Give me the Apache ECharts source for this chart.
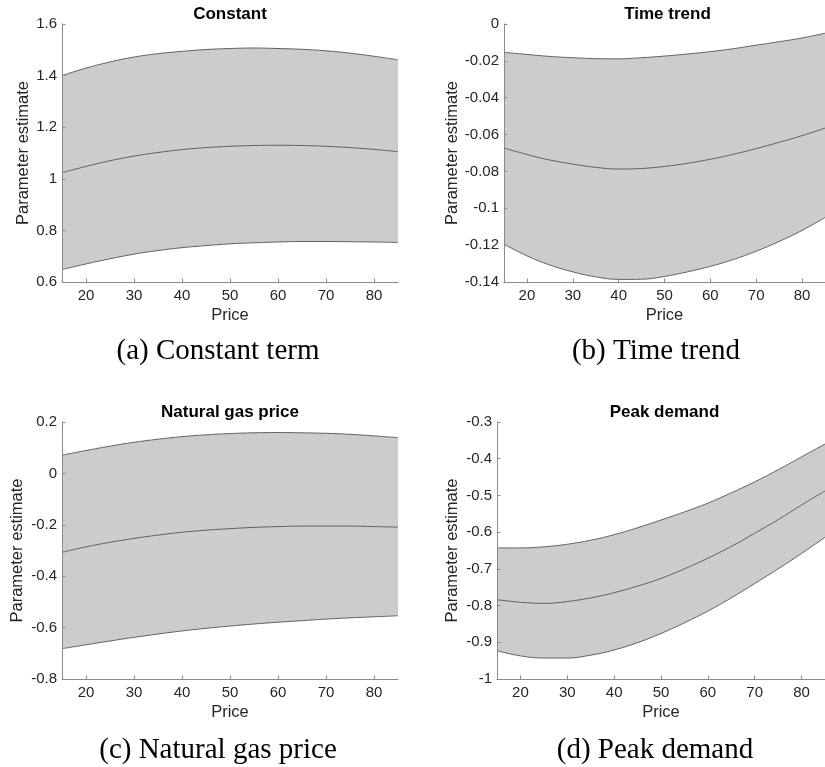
<!DOCTYPE html>
<html>
<head>
<meta charset="utf-8">
<script src="https://cdn.jsdelivr.net/npm/echarts@6/dist/echarts.min.js"></script>
<style>
  html, body { margin: 0; padding: 0; background: #fff; }
  #chart { width: 825px; height: 767px; }
</style>
</head>
<body>
<div id="chart"></div>
<script>
// price grid shared by all panels
const price = [15, 20, 25, 30, 35, 40, 45, 50, 55, 60, 65, 70, 75, 80, 85];
const priceTicks = [20, 30, 40, 50, 60, 70, 80];

// (a) constant
const constUpper = [1.400, 1.429, 1.453, 1.472, 1.485, 1.494, 1.501, 1.505, 1.507, 1.505, 1.502, 1.496, 1.487, 1.475, 1.461];
const constMid   = [1.024, 1.048, 1.070, 1.088, 1.102, 1.113, 1.121, 1.126, 1.129, 1.130, 1.129, 1.126, 1.121, 1.114, 1.105];
const constLower = [0.648, 0.670, 0.690, 0.708, 0.722, 0.733, 0.741, 0.748, 0.752, 0.755, 0.757, 0.757, 0.756, 0.755, 0.753];

// (b) time trend
const trendUpper = [-0.0154, -0.0165, -0.0176, -0.0183, -0.0188, -0.0189, -0.0183, -0.0174, -0.0163, -0.0150, -0.0134, -0.0115, -0.0096, -0.0076, -0.0050];
const trendMid   = [-0.0673, -0.0708, -0.0738, -0.0760, -0.0778, -0.0787, -0.0784, -0.0773, -0.0756, -0.0734, -0.0707, -0.0676, -0.0642, -0.0606, -0.0565];
const trendLower = [-0.1195, -0.1258, -0.1308, -0.1345, -0.1372, -0.1386, -0.1385, -0.1370, -0.1345, -0.1315, -0.1278, -0.1233, -0.1180, -0.1120, -0.1050];

// (c) natural gas price
const gasUpper = [0.071, 0.089, 0.106, 0.121, 0.133, 0.143, 0.150, 0.155, 0.158, 0.159, 0.158, 0.156, 0.152, 0.146, 0.139];
const gasMid   = [-0.307, -0.286, -0.268, -0.253, -0.240, -0.229, -0.221, -0.215, -0.210, -0.207, -0.205, -0.205, -0.205, -0.207, -0.209];
const gasLower = [-0.682, -0.667, -0.652, -0.638, -0.625, -0.613, -0.603, -0.594, -0.586, -0.579, -0.573, -0.567, -0.562, -0.558, -0.554];

// (d) peak demand
const peakUpper = [-0.643, -0.643, -0.640, -0.633, -0.622, -0.607, -0.588, -0.567, -0.545, -0.521, -0.493, -0.463, -0.430, -0.395, -0.360];
const peakMid   = [-0.784, -0.791, -0.794, -0.789, -0.779, -0.765, -0.747, -0.726, -0.700, -0.671, -0.639, -0.603, -0.566, -0.526, -0.488];
const peakLower = [-0.923, -0.937, -0.943, -0.943, -0.935, -0.921, -0.901, -0.876, -0.847, -0.815, -0.779, -0.740, -0.700, -0.658, -0.614];

const panels = [
  { title: 'Constant', caption: '(a) Constant term', upper: constUpper, mid: constMid, lower: constLower,
    yMin: 0.6, yMax: 1.6, yStep: 0.2,
    grid: { left: 62, top: 24, width: 336, height: 258 }, nameGap: 28.5, capX: 218, capY: 337 },
  { title: 'Time trend', caption: '(b) Time trend', upper: trendUpper, mid: trendMid, lower: trendLower,
    yMin: -0.14, yMax: 0, yStep: 0.02,
    grid: { left: 504, top: 24, width: 327, height: 258 }, nameGap: 43, capX: 656, capY: 337 },
  { title: 'Natural gas price', caption: '(c) Natural gas price', upper: gasUpper, mid: gasMid, lower: gasLower,
    yMin: -0.8, yMax: 0.2, yStep: 0.2,
    grid: { left: 62, top: 422, width: 336, height: 257 }, nameGap: 36, capX: 218, capY: 736 },
  { title: 'Peak demand', caption: '(d) Peak demand', upper: peakUpper, mid: peakMid, lower: peakLower,
    yMin: -1, yMax: -0.3, yStep: 0.1,
    grid: { left: 497, top: 422, width: 335, height: 257 }, nameGap: 36.5, capX: 655, capY: 736 }
];

const sans = 'Liberation Sans';
const axisGray = '#8a8a8a';
const textColor = '#262626';
const edge = { color: '#555555', width: 0.9 };

const titles = [];
const grids = [];
const xAxes = [];
const yAxes = [];
const series = [];

const lineSeries = (i, vals, extra) => Object.assign({
  type: 'line', xAxisIndex: i, yAxisIndex: i,
  smooth: 0.4, symbol: 'none', silent: true,
  lineStyle: edge,
  data: price.map((x, j) => [x, vals[j]])
}, extra);

panels.forEach((p, i) => {
  grids.push(p.grid);
  titles.push({
    text: p.title,
    left: p.grid.left + p.grid.width / 2,
    textAlign: 'center',
    top: p.grid.top - 18,
    padding: 0,
    textStyle: { fontFamily: sans, fontWeight: 'bold', fontSize: 17, color: '#000' }
  });
  titles.push({
    text: p.caption,
    left: p.capX,
    textAlign: 'center',
    top: p.capY,
    padding: 0,
    textStyle: { fontFamily: 'Liberation Serif', fontWeight: 'normal', fontSize: 29, color: '#000' }
  });
  xAxes.push({
    gridIndex: i,
    type: 'value',
    z: 5,
    min: 15,
    max: 85,
    name: 'Price',
    nameLocation: 'middle',
    nameGap: 25,
    nameTextStyle: { fontFamily: sans, fontSize: 16.5, color: textColor },
    axisLine: { onZero: false, lineStyle: { color: axisGray, width: 1 } },
    axisTick: { inside: true, length: 3.5, customValues: priceTicks, lineStyle: { color: axisGray } },
    axisLabel: { customValues: priceTicks, margin: 6, fontFamily: sans, fontSize: 15, color: textColor },
    splitLine: { show: false }
  });
  yAxes.push({
    gridIndex: i,
    type: 'value',
    z: 5,
    min: p.yMin,
    max: p.yMax,
    interval: p.yStep,
    name: 'Parameter estimate',
    nameLocation: 'middle',
    nameGap: p.nameGap,
    nameTextStyle: { fontFamily: sans, fontSize: 16.5, color: textColor },
    axisLine: { show: true, onZero: false, lineStyle: { color: axisGray, width: 1 } },
    axisTick: { show: true, inside: true, length: 3.5, lineStyle: { color: axisGray } },
    axisLabel: { margin: 5, fontFamily: sans, fontSize: 15, color: textColor },
    splitLine: { show: false }
  });
  // grey band: fill under the upper bound, then blank out below the lower bound
  series.push(lineSeries(i, p.upper, { areaStyle: { color: '#cccccc', opacity: 1, origin: 'start' } }));
  series.push(lineSeries(i, p.lower, { areaStyle: { color: '#ffffff', opacity: 1, origin: 'start' } }));
  series.push(lineSeries(i, p.mid, { z: 3 }));
});

const chart = echarts.init(document.getElementById('chart'), null, { renderer: 'canvas' });
chart.setOption({
  animation: false,
  backgroundColor: '#ffffff',
  title: titles,
  grid: grids,
  xAxis: xAxes,
  yAxis: yAxes,
  series: series
});
</script>
</body>
</html>
